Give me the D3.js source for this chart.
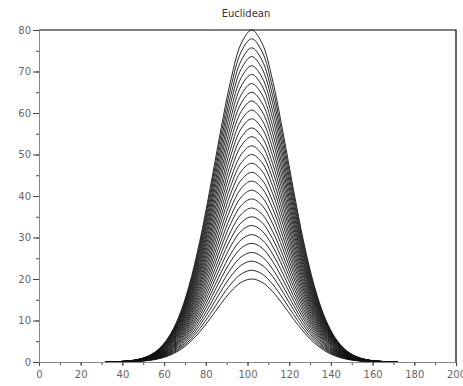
<!DOCTYPE html>
<html>
<head>
<meta charset="utf-8">
<script src="https://cdn.jsdelivr.net/npm/d3@7"></script>
<style>
  body { margin: 0; background: #fff; }
  text { font-family: "DejaVu Sans", sans-serif; }
</style>
</head>
<body>
<script>
// peak heights of the curves
const peaks = [20, 22.1, 24.3, 26.4, 28.6, 30.7, 32.9, 35.0, 37.1, 39.3, 41.4, 43.6, 45.7, 47.9,
  50.0, 52.1, 54.3, 56.4, 58.6, 60.7, 62.9, 65.0, 67.1, 69.3, 71.4, 73.6, 75.7, 77.9, 80.0];
// x positions and relative height of the common bell shape
const xs = [32, 37, 42, 47, 52, 57, 62, 67, 72, 77, 82, 87, 92, 97, 102,
  107, 112, 117, 122, 127, 132, 137, 142, 147, 152, 157, 162, 167, 172];
const shape = [0.000335, 0.001009, 0.002799, 0.00716, 0.01687, 0.03667, 0.07339, 0.1353,
  0.2301, 0.3604, 0.5204, 0.6926, 0.8494, 0.96, 1,
  0.96, 0.8494, 0.6926, 0.5204, 0.3604, 0.2301, 0.1353, 0.07339, 0.03667, 0.01687,
  0.00716, 0.002799, 0.001009, 0.000335];
const xTicks = [0, 20, 40, 60, 80, 100, 120, 140, 160, 180, 200];
const yTicks = [0, 10, 20, 30, 40, 50, 60, 70, 80];

const width = 463;
const height = 386;
const m = { left: 39, right: 456, top: 30, bottom: 362 };

const svg = d3.select("body").append("svg")
  .attr("width", width)
  .attr("height", height);

const x = d3.scaleLinear().domain([0, 200]).range([m.left, m.right]);
const y = d3.scaleLinear().domain([0, 80]).range([m.bottom, m.top]);

// frame top / right
svg.append("path")
  .attr("d", `M${m.left},${m.top}H${m.right}V${m.bottom}`)
  .attr("fill", "none")
  .attr("stroke", "#000")
  .attr("stroke-width", 1.2);

const line = d3.line()
  .x((d) => x(d[0]))
  .y((d) => y(d[1]))
  .curve(d3.curveCatmullRom);

svg.append("g")
  .selectAll("path")
  .data(peaks)
  .enter()
  .append("path")
  .attr("d", (p) => line(xs.map((v, i) => [v, p * shape[i]])))
  .attr("fill", "none")
  .attr("stroke", "#111")
  .attr("stroke-width", 0.9);

// x axis
const gx = svg.append("g").attr("transform", `translate(0,${m.bottom})`);
gx.call(d3.axisBottom(x).tickValues(d3.range(0, 201, 10)).tickSize(3).tickFormat(""));
gx.append("g").call(d3.axisBottom(x).tickValues(xTicks).tickSize(4).tickFormat(d3.format("d")));
gx.selectAll("path.domain").attr("stroke", "#888");
gx.selectAll("line").attr("stroke", "#444");
gx.selectAll("text").attr("fill", "#666").attr("font-size", 10).attr("dy", "0.9em");

// y axis
const gy = svg.append("g").attr("transform", `translate(${m.left},0)`);
gy.call(d3.axisLeft(y).tickValues(d3.range(0, 81, 5)).tickSize(3).tickFormat(""));
gy.append("g").call(d3.axisLeft(y).tickValues(yTicks).tickSize(6).tickFormat(d3.format("d")));
gy.selectAll("path.domain").attr("stroke", "#888");
gy.selectAll("line").attr("stroke", "#444");
gy.selectAll("text").attr("fill", "#666").attr("font-size", 10).attr("x", -8);

svg.append("text")
  .attr("x", 246)
  .attr("y", 17)
  .attr("text-anchor", "middle")
  .attr("font-size", 10)
  .attr("fill", "#333")
  .text("Euclidean");
</script>
</body>
</html>
